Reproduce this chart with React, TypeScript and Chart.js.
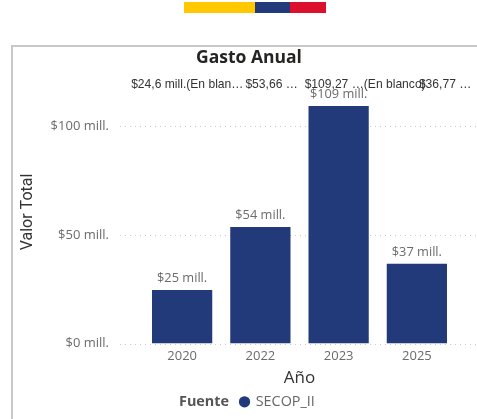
import React, { useEffect, useRef } from "react";
import { Chart, registerables } from "chart.js";

Chart.register(...registerables);

const years = ["2020", "2022", "2023", "2025"];
const gasto = [24.6, 53.66, 109.27, 36.77];
const barLabels = ["$25 mill.", "$54 mill.", "$109 mill.", "$37 mill."];
const cardLabels = ["$24,6 mill.(En blan…", "$53,66 …", "$109,27 …(En blanco)", "$36,77 …"];
const seriesName = "SECOP_II";
const legendTitle = "Fuente";
const chartTitle = "Gasto Anual";
const yTitle = "Valor Total";
const NAVY = "#22397a";
const UI = '"Open Sans", "Noto Sans", sans-serif';

const cardOffsets = [-51, -15, -34, 2];

const decorPlugin = {
  id: "decor",
  afterLayout(chart: any) {
    if (chart.legend) {
      chart.legend.left = 238.5;
      chart.legend.right = 330;
    }
    if (chart.titleBlock) {
      chart.titleBlock.left = 20;
      chart.titleBlock.right = 478;
    }
  },
  beforeDatasetsDraw(chart: any) {
    const { ctx, scales } = chart;
    ctx.save();
    ctx.strokeStyle = "#c9c9c9";
    ctx.lineWidth = 1;
    ctx.setLineDash([1, 4]);
    scales.y.ticks.forEach((t: any) => {
      const y = Math.round(scales.y.getPixelForValue(t.value)) + 0.5;
      ctx.beginPath();
      ctx.moveTo(120, y);
      ctx.lineTo(477, y);
      ctx.stroke();
    });
    ctx.restore();
  },
  afterDatasetsDraw(chart: any) {
    const { ctx } = chart;
    const meta = chart.getDatasetMeta(0);
    ctx.save();
    ctx.textBaseline = "alphabetic";
    ctx.textAlign = "left";
    ctx.font = '12.1px "Liberation Sans", Arial, sans-serif';
    ctx.fillStyle = "#333333";
    meta.data.forEach((bar: any, i: number) => {
      ctx.fillText(cardLabels[i], bar.x + cardOffsets[i], 88);
    });
    ctx.textAlign = "center";
    ctx.font = `12.8px ${UI}`;
    ctx.fillStyle = "#6b6b6b";
    meta.data.forEach((bar: any, i: number) => {
      ctx.fillText(barLabels[i], bar.x, bar.y - 8);
    });
    if (chart.legend && chart.legend.legendHitBoxes.length) {
      const box = chart.legend.legendHitBoxes[0];
      ctx.textAlign = "left";
      ctx.textBaseline = "middle";
      ctx.font = `bold 14.4px ${UI}`;
      ctx.fillStyle = "#555555";
      ctx.fillText(legendTitle, 179, box.top + box.height / 2);
    }
    ctx.save();
    ctx.translate(28, 212);
    ctx.rotate(-Math.PI / 2);
    ctx.textAlign = "center";
    ctx.textBaseline = "middle";
    ctx.font = `16px Roboto, ${UI}`;
    ctx.fillStyle = "#333333";
    ctx.fillText(yTitle, 0, 0);
    ctx.restore();
    ctx.restore();
  },
};

export default function App() {
  const ref = useRef<HTMLCanvasElement>(null);
  useEffect(() => {
    const chart = new Chart(ref.current!, {
      type: "bar",
      data: {
        labels: years,
        datasets: [
          {
            label: seriesName,
            data: gasto,
            backgroundColor: NAVY,
            borderWidth: 0,
            categoryPercentage: 1,
            barPercentage: 0.77,
          },
        ],
      },
      options: {
        animation: false,
        responsive: false,
        devicePixelRatio: 1,
        layout: { padding: { top: 48, right: 21, bottom: 0, left: 0 } },
        plugins: {
          tooltip: { enabled: false },
          title: {
            display: true,
            text: chartTitle,
            color: "#252423",
            font: { family: UI, size: 17.5, weight: "bold" },
            padding: { top: 0, bottom: 31 },
          },
          legend: {
            display: true,
            position: "bottom",
            align: "start",
            labels: {
              usePointStyle: true,
              pointStyle: "circle",
              boxWidth: 8,
              boxHeight: 8,
              padding: 2,
              color: "#666666",
              font: { family: UI, size: 14.4 },
            },
          },
        },
        scales: {
          x: {
            afterFit(s: any) {
              s.height = 49;
            },
            grid: { display: false, drawTicks: false },
            border: { display: false },
            ticks: { color: "#6b6b6b", font: { family: UI, size: 13 }, padding: 5, maxRotation: 0 },
            title: {
              display: true,
              text: "Año",
              color: "#333333",
              font: { family: UI, size: 17 },
              padding: { top: 2, bottom: 4 },
            },
          },
          y: {
            min: 0,
            max: 112,
            afterFit(s: any) {
              s.width = 143;
            },
            afterBuildTicks(s: any) {
              s.ticks = [{ value: 0 }, { value: 50 }, { value: 100 }];
            },
            grid: { display: false, drawTicks: false },
            border: { display: false },
            ticks: {
              color: "#6b6b6b",
              font: { family: UI, size: 13 },
              padding: 34,
              callback: (v: any) => `$${v} mill.`,
            },
          },
        },
      } as any,
      plugins: [decorPlugin],
    });
    return () => chart.destroy();
  }, []);

  return (
    <div style={{ position: "fixed", left: 0, top: 0, width: 477, height: 419, overflow: "hidden", background: "#fff" }}>
      <div style={{ position: "absolute", left: 184, top: 2, width: 71, height: 11, background: "#ffc800" }} />
      <div style={{ position: "absolute", left: 255, top: 2, width: 35, height: 11, background: NAVY }} />
      <div style={{ position: "absolute", left: 290, top: 2, width: 36, height: 11, background: "#dc0f2d" }} />
      <div style={{ position: "absolute", left: 11, top: 45, width: 470, height: 380, border: "2px solid #c8c8c8", boxSizing: "border-box" }} />
      <canvas ref={ref} width={477} height={419} style={{ position: "absolute", left: 0, top: 0 }} />
    </div>
  );
}
